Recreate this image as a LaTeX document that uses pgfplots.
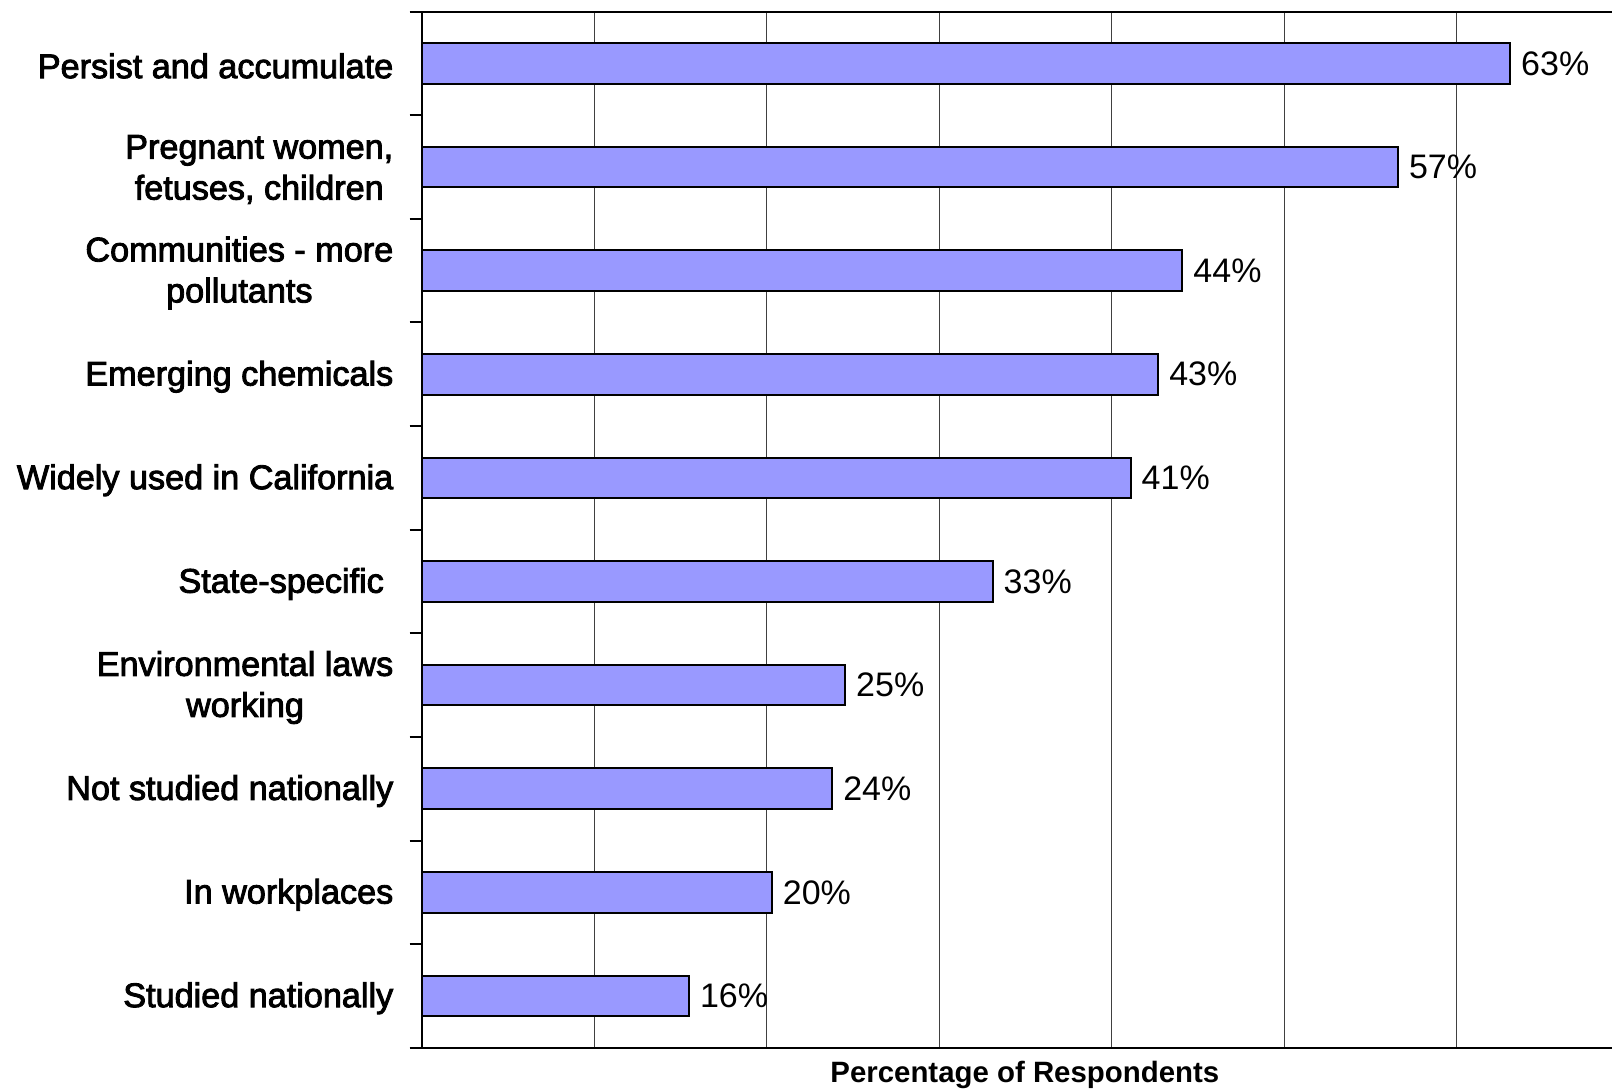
\documentclass[border=0pt]{standalone}
\usepackage{fontspec}
\setmainfont{Liberation Sans}
\newfontfamily\catfont{Liberation Sans}[FakeBold=2.6]
\usepackage{pgfplots}
\pgfplotsset{compat=1.18}
\definecolor{barblue}{HTML}{9999FF}
\definecolor{gridgray}{HTML}{404040}

\begin{document}
\begin{tikzpicture}
\begin{axis}[
  xbar, bar width=0.393,
  width=595.15pt, height=518pt, scale only axis,
  xmin=0, xmax=69, ymin=-0.5, ymax=9.5,
  axis line style={draw=none},
  clip=false,
  xtick={10,20,...,60}, xticklabels={}, xmajorgrids,
  major x tick style={draw=none},
  grid style={gridgray, line width=0.6pt},
  ytick={0,...,9},
  yticklabels={Studied nationally, In workplaces, Not studied nationally,
    {Environmental laws\\working}, {State-specific\ }, Widely used in California,
    Emerging chemicals, {Communities - more\\pollutants},
    {Pregnant women,\\fetuses, children}, Persist and accumulate},
  major y tick style={draw=none},
  minor ytick={-0.5,0.5,...,9.5},
  minor y tick style={black, line width=1pt},
  minor tick length=6pt, major tick length=0pt, tick align=outside,
  yticklabel style={font=\catfont\fontsize{17.1}{20.5}\selectfont, align=center, anchor=east, inner sep=0pt, xshift=-14pt, yshift=-1.2pt},
  xlabel={Percentage of Respondents},
  xlabel style={font=\bfseries\fontsize{14.7}{16}\selectfont, at={(axis description cs:0.5,0)}, anchor=base, yshift=-17.2pt, xshift=4pt},
  point meta=explicit,
  nodes near coords={\pgfmathprintnumber[assume math mode=true]{\pgfplotspointmeta}\%},
  nodes near coords style={font=\fontsize{17}{20}\selectfont, anchor=west, inner sep=0pt, xshift=5pt},
]
\addplot[fill=barblue, draw=black, line width=1pt] coordinates {
  (15.5,0) [16]
  (20.3,1) [20]
  (23.8,2) [24]
  (24.55,3) [25]
  (33.1,4) [33]
  (41.1,5) [41]
  (42.7,6) [43]
  (44.1,7) [44]
  (56.6,8) [57]
  (63.1,9) [63]
};
\coordinate (BL) at (rel axis cs:0,0);
\coordinate (TR) at (rel axis cs:1,1);
\draw[black, line width=1pt] (rel axis cs:1,1) -- (rel axis cs:0,1) -- (rel axis cs:0,0) -- (rel axis cs:1,0);
\end{axis}
\pgfresetboundingbox
\path[use as bounding box] ([xshift=-210.85pt, yshift=-20.65pt]BL) rectangle ([yshift=5.85pt]TR);
\end{tikzpicture}
\end{document}
